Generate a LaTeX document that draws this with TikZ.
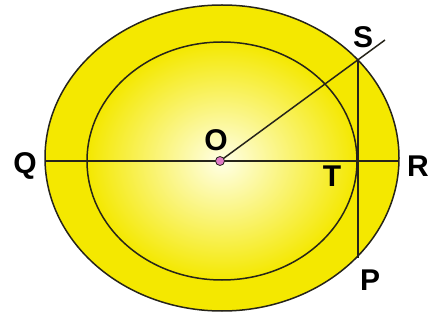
\documentclass[tikz,border=0pt]{standalone}
\usepackage{fontspec}
\setmainfont{Liberation Sans}
\usepackage{tikz}
\definecolor{ink}{HTML}{26241A}
\definecolor{ringyellow}{HTML}{F4E800}
\definecolor{glow}{HTML}{FFFFE6}
\definecolor{dotpink}{HTML}{E07AC6}

\begin{document}
\begin{tikzpicture}[x=1pt, y=-1pt, line width=1.5pt,
  lbl/.style={font=\fontsize{30}{30}\selectfont\bfseries, text=black, inner sep=0pt}]
  \useasboundingbox (0,0) rectangle (436,320);

  % outer circle (yellow ring)
  \filldraw[fill=ringyellow, draw=ink] (222,158) ellipse [x radius=177, y radius=153];

  % inner circle, bright in the middle
  \shade[inner color=glow, outer color=ringyellow] (222,161) ellipse [x radius=135, y radius=119];
  \draw[ink] (222,161) ellipse [x radius=135, y radius=119];

  % points
  \coordinate (O) at (220,161);
  \coordinate (Q) at (45,161);
  \coordinate (R) at (399,161);
  \coordinate (S) at (358,60);
  \coordinate (T) at (358,161);
  \coordinate (P) at (358,258);
  \coordinate (Sout) at (385,40);

  % diameter, chord and radius through S
  \draw[ink] (Q) -- (R);
  \draw[ink] (S) -- (P);
  \draw[ink] (O) -- (Sout);

  % centre
  \filldraw[fill=dotpink, draw=ink, line width=0.8pt] (O) circle (4.5);

  % labels
  \node[lbl] (oLab) at (216,140) {O};
  \node[lbl] (qLab) at (25,166) {Q};
  \node[lbl] (rLab) at (418,166) {R};
  \node[lbl] (sLab) at (363,37) {S};
  \node[lbl] (tLab) at (332,176) {T};
  \node[lbl] (pLab) at (370,280) {P};
\end{tikzpicture}
\end{document}
